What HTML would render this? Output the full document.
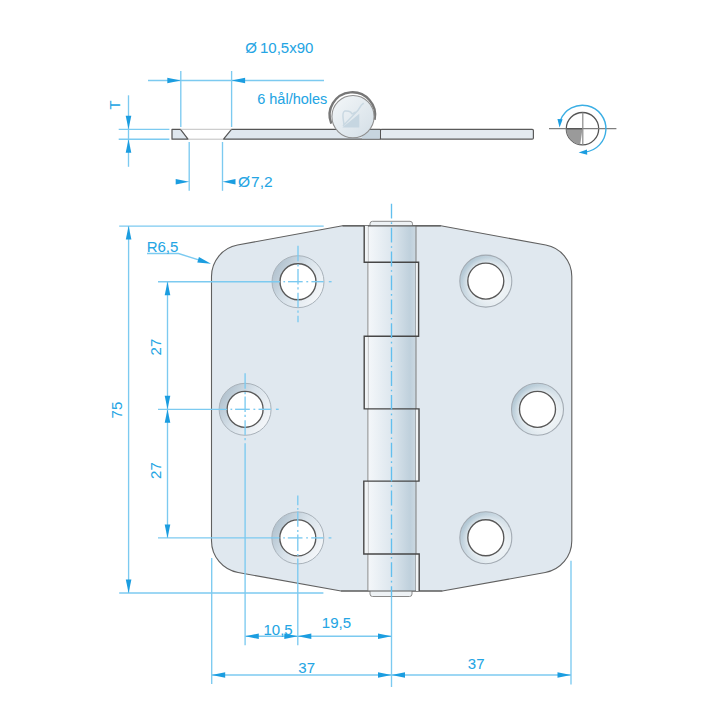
<!DOCTYPE html>
<html><head><meta charset="utf-8">
<style>
html,body{margin:0;padding:0;background:#fff;}
svg{display:block;}
text{font-family:"Liberation Sans",sans-serif;fill:#24a5e4;font-size:15px;stroke:#24a5e4;stroke-width:0.05px;}
</style></head><body>
<svg width="720" height="720" viewBox="0 0 720 720">
<defs>
  <linearGradient id="barrel" x1="0" y1="0" x2="1" y2="0">
    <stop offset="0" stop-color="#f4f7fa"/>
    <stop offset="0.45" stop-color="#dfe8ef"/>
    <stop offset="0.88" stop-color="#bfd0dc"/>
    <stop offset="1" stop-color="#cbd8e1"/>
  </linearGradient>
  <linearGradient id="csL" x1="0.1" y1="0.25" x2="0.9" y2="0.75">
    <stop offset="0" stop-color="#b5c5d1"/>
    <stop offset="0.45" stop-color="#d8e2ea"/>
    <stop offset="1" stop-color="#f2f5f8"/>
  </linearGradient>
  <linearGradient id="csR" x1="0.05" y1="0.1" x2="0.95" y2="0.9">
    <stop offset="0" stop-color="#abc2d0"/>
    <stop offset="0.5" stop-color="#d4e0e8"/>
    <stop offset="1" stop-color="#f2f6f8"/>
  </linearGradient>
  <radialGradient id="hiR" cx="0.5" cy="0.5" r="0.5">
    <stop offset="0.66" stop-color="#fff" stop-opacity="0.6"/>
    <stop offset="0.8" stop-color="#fff" stop-opacity="0.25"/>
    <stop offset="0.93" stop-color="#fff" stop-opacity="0"/>
  </radialGradient>
  <linearGradient id="knuck" x1="0" y1="0" x2="1" y2="1">
    <stop offset="0" stop-color="#f4f7f9"/>
    <stop offset="1" stop-color="#d3dee6"/>
  </linearGradient>
</defs>

<g id="side">
  <rect x="380.4" y="129.3" width="153" height="9.9" rx="1.2" fill="#e3eaf0" stroke="#5a5a5a" stroke-width="1.2"/>
  <polygon points="172,129.3 180.5,129.3 188,139.2 172,139.2" fill="#dfe7ee" stroke="#555" stroke-width="1.2" stroke-linejoin="round"/>
  <polygon points="231.5,129.3 380.4,129.3 380.4,139.2 223.5,139.2" fill="#dfe7ee" stroke="#555" stroke-width="1.2" stroke-linejoin="round"/>
  <rect x="362" y="129.9" width="17.8" height="8.7" fill="#c7d5df"/>
  <line x1="180.5" y1="129.3" x2="231.5" y2="129.3" stroke="#b0b0b0" stroke-width="0.8"/>
  <line x1="188" y1="139.2" x2="223.5" y2="139.2" stroke="#b0b0b0" stroke-width="0.8"/>
  <path d="M 331.3,123.6 A 22.75,22.75 0 1 1 374.6,119.8" fill="none" stroke="#777" stroke-width="2.4"/>
  <circle cx="353" cy="116.6" r="21.1" fill="url(#knuck)" stroke="#8f8f8f" stroke-width="1.1"/>
  <polygon points="342.3,127.6 359.3,127.6 359.3,113.8" fill="#c6d6e1"/>
  <path d="M343,126 L357.8,110.6 L361.2,105.3 L363.7,103.1 M356.4,112.1 C355,111.5 353,114.5 351.8,113.6 C350.8,111.3 347,110.6 344.7,111.1 C342.6,111.8 342.8,116 343.2,119 C343.5,121.5 344,123 343.8,124.5" fill="none" stroke="#c9d8e2" stroke-width="1.5" stroke-linejoin="round"/>
</g>

<g id="rot">
  <circle cx="582.5" cy="128.7" r="16.2" fill="#fff" stroke="#555" stroke-width="1.3"/>
  <path d="M582.5,128.7 L566.3,128.7 A16.2,16.2 0 0 0 580.2,144.7 Z" fill="#9a9a9a"/>
  <line x1="549" y1="128.7" x2="616.4" y2="128.7" stroke="#7f7f7f" stroke-width="1.3"/>
  <line x1="582.5" y1="128.7" x2="566.3" y2="128.7" stroke="#555" stroke-width="1.3"/>
  <line x1="582.8" y1="112.5" x2="582.8" y2="144.9" stroke="#8a8a8a" stroke-width="1.2"/>
  <path d="M 560.6,120 A 23.5,23.5 0 1 1 585,152.1" fill="none" stroke="#3aaee4" stroke-width="1.4"/>
  <g fill="#1b9de0">
  <polygon points="559.60,127.50 557.43,118.88 562.62,119.14"/>
  <polygon points="578.60,152.50 586.96,149.48 587.22,154.67"/>
  </g>
</g>
</g>

<g id="plate">
  <path d="M 211.5,276.5 C 211.5,261.1 222.4,247.9 237.5,245.08 L 342.5,225.8 L 440.8,225.8 L 545.8,245.08 C 560.9,247.9 571.8,261.1 571.8,276.5 L 571.8,540.7 C 571.8,556.3 560.6,569.7 545.2,572.5 L 442.3,591 L 341,591 L 238.1,572.5 C 222.7,569.7 211.5,556.3 211.5,540.7 Z" fill="#e0e8ef" stroke="#606060" stroke-width="1.1"/>
  <rect x="370" y="221.3" width="42.5" height="6" rx="2.5" fill="#eef2f5" stroke="#8a8a8a" stroke-width="1"/>
  <rect x="370" y="589" width="42" height="7.5" rx="2.5" fill="#eef2f5" stroke="#8a8a8a" stroke-width="1"/>
  <rect x="367.9" y="225.8" width="48.1" height="365.2" fill="url(#barrel)"/>
  <line x1="367.9" y1="225.8" x2="367.9" y2="591" stroke="#8d8d8d" stroke-width="1"/>
  <line x1="416" y1="225.8" x2="416" y2="591" stroke="#7d7d7d" stroke-width="1"/>
  <line x1="342.5" y1="225.8" x2="440.8" y2="225.8" stroke="#5a5a5a" stroke-width="1.2"/>
  <line x1="341" y1="591" x2="442.3" y2="591" stroke="#5a5a5a" stroke-width="1.2"/>
  <g fill="#f1f4f6">
    <rect x="364.2" y="225.8" width="3.7" height="36.5"/>
    <rect x="364.2" y="336.2" width="3.7" height="72.7"/>
    <rect x="363.8" y="481.1" width="4.1" height="72.9"/>
    <rect x="416" y="262.3" width="2.6" height="73.9"/>
    <rect x="416" y="408.9" width="3" height="72.2"/>
    <rect x="416" y="554" width="3.2" height="37"/>
  </g>
  <path d="M364.2,225.8 V262.3 H418.6 V336.2 H364.2 V408.9 H419 V481.1 H363.8 V554 H419.2 V591" fill="none" stroke="#474747" stroke-width="1.4"/>

  <circle cx="298" cy="281.7" r="26" fill="url(#csL)" stroke="#a9b2ba" stroke-width="1"/>
  <circle cx="298" cy="281.7" r="18" fill="#fff" stroke="#585858" stroke-width="1.35"/>
  <circle cx="245.1" cy="409.3" r="26" fill="url(#csL)" stroke="#a9b2ba" stroke-width="1"/>
  <circle cx="245.1" cy="409.3" r="18" fill="#fff" stroke="#585858" stroke-width="1.35"/>
  <circle cx="297.8" cy="537.9" r="26" fill="url(#csL)" stroke="#a9b2ba" stroke-width="1"/>
  <circle cx="297.8" cy="537.9" r="18" fill="#fff" stroke="#585858" stroke-width="1.35"/>
  <circle cx="485.8" cy="281.1" r="26" fill="url(#csR)" stroke="#a3abb3" stroke-width="1.1"/>
  <circle cx="485.8" cy="281.1" r="25.5" fill="url(#hiR)"/>
  <circle cx="485.8" cy="281.1" r="18" fill="#fff" stroke="#585858" stroke-width="1.35"/>
  <circle cx="537.5" cy="409.3" r="26" fill="url(#csR)" stroke="#a3abb3" stroke-width="1.1"/>
  <circle cx="537.5" cy="409.3" r="25.5" fill="url(#hiR)"/>
  <circle cx="537.5" cy="409.3" r="18" fill="#fff" stroke="#585858" stroke-width="1.35"/>
  <circle cx="485.8" cy="537.7" r="26" fill="url(#csR)" stroke="#a3abb3" stroke-width="1.1"/>
  <circle cx="485.8" cy="537.7" r="25.5" fill="url(#hiR)"/>
  <circle cx="485.8" cy="537.7" r="18" fill="#fff" stroke="#585858" stroke-width="1.35"/>
</g>
<g id="dims" stroke="#7ccaf0" stroke-width="1.35" fill="none">
  <line x1="148" y1="80.5" x2="324" y2="80.5"/>
  <line x1="180.8" y1="71" x2="180.8" y2="127"/>
  <line x1="231.6" y1="71" x2="231.6" y2="127"/>
  <line x1="128.5" y1="95.3" x2="128.5" y2="166.8"/>
  <line x1="118.7" y1="129.3" x2="169.4" y2="129.3"/>
  <line x1="118.7" y1="139.2" x2="169.4" y2="139.2"/>
  <line x1="189.2" y1="142" x2="189.2" y2="190.8"/>
  <line x1="222.5" y1="142" x2="222.5" y2="190.8"/>
  <line x1="391.5" y1="203.8" x2="391.5" y2="597" stroke-dasharray="14.8 3.75 1.6 3.75" stroke="#62bfee"/>
  <line x1="391.5" y1="597" x2="391.5" y2="687"/>
  <line x1="119.2" y1="226.1" x2="323.7" y2="226.1"/>
  <line x1="119.2" y1="593" x2="323.4" y2="593"/>
  <line x1="128.6" y1="226.1" x2="128.6" y2="593"/>
  <line x1="167.5" y1="281.7" x2="167.5" y2="538"/>
  <line x1="158" y1="281.7" x2="280" y2="281.7"/>
  <line x1="158" y1="409.3" x2="227" y2="409.3"/>
  <line x1="158" y1="537.9" x2="279.6" y2="537.9"/>
  <polyline points="147,253.5 178.5,253.5 205,261.8"/>
  <line x1="283.4" y1="281.7" x2="285.1" y2="281.7"/>
  <line x1="288" y1="281.7" x2="302.7" y2="281.7"/>
  <line x1="306.3" y1="281.7" x2="308.2" y2="281.7"/>
  <line x1="311.4" y1="281.7" x2="323.8" y2="281.7"/>
  <line x1="328.8" y1="281.7" x2="331.6" y2="281.7"/>
  <line x1="230.5" y1="409.3" x2="232.2" y2="409.3"/>
  <line x1="235.1" y1="409.3" x2="249.8" y2="409.3"/>
  <line x1="253.4" y1="409.3" x2="255.3" y2="409.3"/>
  <line x1="258.5" y1="409.3" x2="270.9" y2="409.3"/>
  <line x1="275.9" y1="409.3" x2="278.7" y2="409.3"/>
  <line x1="283.2" y1="537.9" x2="284.9" y2="537.9"/>
  <line x1="287.8" y1="537.9" x2="302.5" y2="537.9"/>
  <line x1="306.1" y1="537.9" x2="308.0" y2="537.9"/>
  <line x1="311.2" y1="537.9" x2="323.6" y2="537.9"/>
  <line x1="328.6" y1="537.9" x2="331.4" y2="537.9"/>
  <line x1="298" y1="245.7" x2="298" y2="261.2"/>
  <line x1="298" y1="264.3" x2="298" y2="266.6"/>
  <line x1="298" y1="268.9" x2="298" y2="284.5"/>
  <line x1="298" y1="287.2" x2="298" y2="289.5"/>
  <line x1="298" y1="292.7" x2="298" y2="307.4"/>
  <line x1="298" y1="310.4" x2="298" y2="312.7"/>
  <line x1="298" y1="315.7" x2="298" y2="322.2"/>
  <line x1="245.1" y1="373.3" x2="245.1" y2="388.8"/>
  <line x1="245.1" y1="391.9" x2="245.1" y2="394.2"/>
  <line x1="245.1" y1="396.5" x2="245.1" y2="412.1"/>
  <line x1="245.1" y1="414.8" x2="245.1" y2="417.1"/>
  <line x1="245.1" y1="420.3" x2="245.1" y2="435.0"/>
  <line x1="245.1" y1="438.0" x2="245.1" y2="440.3"/>
  <line x1="245.1" y1="443.3" x2="245.1" y2="645.3"/>
  <line x1="297.8" y1="495.6" x2="297.8" y2="505.3"/>
  <line x1="297.8" y1="508.1" x2="297.8" y2="509.7"/>
  <line x1="297.8" y1="511.5" x2="297.8" y2="526.8"/>
  <line x1="297.8" y1="530.1" x2="297.8" y2="531.9"/>
  <line x1="297.8" y1="534.4" x2="297.8" y2="550.9"/>
  <line x1="297.8" y1="553.9" x2="297.8" y2="555.7"/>
  <line x1="297.8" y1="558.4" x2="297.8" y2="645.3"/>
  <line x1="211.7" y1="558" x2="211.7" y2="684"/>
  <line x1="571" y1="560.7" x2="571" y2="684.4"/>
  <line x1="245.3" y1="636.2" x2="391.5" y2="636.2"/>
  <line x1="211.7" y1="675" x2="571" y2="675"/>
</g>
<g id="arrows" fill="#1b9de0">
  <polygon points="180.80,80.50 167.30,83.30 167.30,77.70"/>
  <polygon points="231.60,80.50 245.10,77.70 245.10,83.30"/>
  <polygon points="128.50,129.30 125.70,115.80 131.30,115.80"/>
  <polygon points="128.50,139.20 131.30,152.70 125.70,152.70"/>
  <polygon points="189.20,181.70 175.70,184.50 175.70,178.90"/>
  <polygon points="222.50,181.70 235.50,178.90 235.50,184.50"/>
  <polygon points="128.60,226.10 131.40,239.60 125.80,239.60"/>
  <polygon points="128.60,593.00 125.80,579.50 131.40,579.50"/>
  <polygon points="167.50,281.70 170.30,295.20 164.70,295.20"/>
  <polygon points="167.50,409.30 164.70,395.80 170.30,395.80"/>
  <polygon points="167.50,409.30 170.30,422.80 164.70,422.80"/>
  <polygon points="167.50,537.90 164.70,524.40 170.30,524.40"/>
  <polygon points="211.00,263.80 197.28,262.44 198.95,257.09"/>
  <polygon points="245.30,636.20 258.80,633.40 258.80,639.00"/>
  <polygon points="297.80,636.20 284.30,639.00 284.30,633.40"/>
  <polygon points="297.80,636.20 311.30,633.40 311.30,639.00"/>
  <polygon points="391.50,636.20 378.00,639.00 378.00,633.40"/>
  <polygon points="211.70,675.00 225.20,672.20 225.20,677.80"/>
  <polygon points="391.50,675.00 378.00,677.80 378.00,672.20"/>
  <polygon points="391.50,675.00 405.00,672.20 405.00,677.80"/>
  <polygon points="571.00,675.00 557.50,677.80 557.50,672.20"/>
</g>
<g id="texts">
  <text x="245.3" y="52.8">Ø<tspan dx="3">10,5x90</tspan></text>
  <text x="257.2" y="103.6" style="font-size:14.5px">6 hål/holes</text>
  <text x="238" y="186.8" style="font-size:15.5px">Ø<tspan dx="1">7,2</tspan></text>
  <text transform="translate(120.3,105) rotate(-90)" text-anchor="middle">T</text>
  <text x="146.7" y="252.4">R6,5</text>
  <text transform="translate(161.2,347.1) rotate(-90)" text-anchor="middle">27</text>
  <text transform="translate(161.2,470.6) rotate(-90)" text-anchor="middle">27</text>
  <text transform="translate(121.9,410.1) rotate(-90)" text-anchor="middle">75</text>
  <text x="263.5" y="634.7">10,5</text>
  <text x="321.8" y="627.7">19,5</text>
  <text x="298.3" y="673.3">37</text>
  <text x="467.8" y="669.3">37</text>
</g>
</svg>
</body></html>
